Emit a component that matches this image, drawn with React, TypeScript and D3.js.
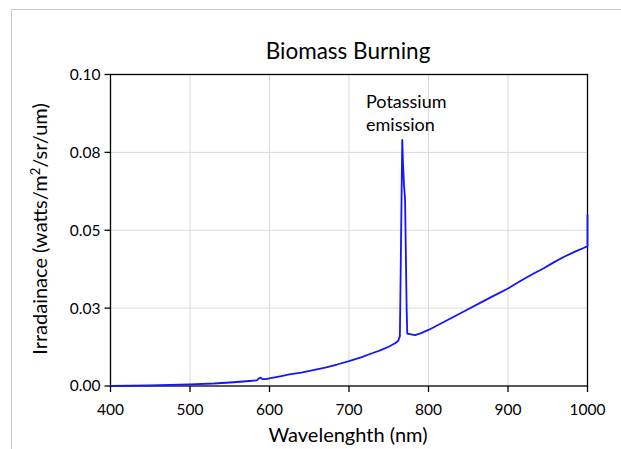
import React from "react";
import * as d3 from "d3";

// spectrum (nm, watts/m2/sr/um)
const wavelength = [
  400, 450, 500, 530, 555, 575, 584, 587, 589, 591, 595, 605, 615, 625, 640,
  655, 670, 685, 700, 715, 730, 740, 750, 758, 762, 764, 767, 768, 769.2,
  770.5, 772.5, 773.3, 778, 783, 790, 800, 815, 830, 848, 865, 880, 900, 915,
  930, 945, 957, 970, 985, 995, 1000, 1000,
];
const irradiance = [
  0, 0.0002, 0.0005, 0.0008, 0.0012, 0.0016, 0.0018, 0.0025, 0.0027, 0.0022,
  0.0022, 0.0027, 0.0032, 0.0037, 0.0043, 0.0051, 0.0059, 0.0069, 0.008,
  0.0092, 0.0106, 0.0115, 0.0126, 0.0137, 0.0145, 0.016, 0.079, 0.071, 0.0644,
  0.06, 0.025, 0.0168, 0.0166, 0.0163, 0.0169, 0.018, 0.02, 0.022, 0.0244,
  0.0267, 0.0287, 0.0313, 0.0336, 0.0358, 0.0378, 0.0396, 0.0414, 0.0432,
  0.0443, 0.0449, 0.055,
];

const xTicks = [400, 500, 600, 700, 800, 900, 1000];
const yTicks = [0, 0.025, 0.05, 0.075, 0.1];
const yTickLabels = ["0.00", "0.03", "0.05", "0.08", "0.10"];

const W = 621;
const H = 449;
const left = 110.5;
const right = 587.5;
const top = 74.5;
const bottom = 386;
const font = "Lato, 'Open Sans', sans-serif";

export default function App() {
  const x = d3.scaleLinear().domain([400, 1000]).range([left, right]);
  const y = d3.scaleLinear().domain([0, 0.1]).range([bottom, top]);

  const pts: [number, number][] = wavelength.map((w, i) => [w, irradiance[i]]);
  const line = d3
    .line<[number, number]>()
    .x((d) => x(d[0]))
    .y((d) => y(d[1]));

  return (
    <svg
      width={W}
      height={H}
      style={{ position: "absolute", left: 0, top: 0, background: "#fff" }}
    >
      {/* outer frame of the picture */}
      <line x1={11.5} y1={9.5} x2={W} y2={9.5} stroke="#c8c8c8" />
      <line x1={11.5} y1={9.5} x2={11.5} y2={H} stroke="#c8c8c8" />

      <text
        x={348}
        y={59}
        textAnchor="middle"
        fontFamily={font}
        fontSize={22.5}
        fill="#000"
      >
        Biomass Burning
      </text>

      {/* grid */}
      {xTicks.slice(1, -1).map((t) => (
        <line key={"gx" + t} x1={x(t)} x2={x(t)} y1={top} y2={bottom} stroke="#d9d9d9" />
      ))}
      {yTicks.slice(1, -1).map((t) => (
        <line key={"gy" + t} x1={left} x2={right} y1={y(t)} y2={y(t)} stroke="#d9d9d9" />
      ))}

      {/* frame */}
      <rect
        x={left}
        y={top}
        width={right - left}
        height={bottom - top}
        fill="none"
        stroke="#000"
        strokeWidth={1.3}
      />

      {/* ticks */}
      {yTicks.map((t, i) => (
        <g key={"ty" + t}>
          <line x1={left - 6} x2={left} y1={y(t)} y2={y(t)} stroke="#000" strokeWidth={1.3} />
          <text
            x={left - 10}
            y={y(t)}
            dy="0.35em"
            textAnchor="end"
            fontFamily={font}
            fontSize={15.5}
          >
            {yTickLabels[i]}
          </text>
        </g>
      ))}
      {xTicks.map((t) => (
        <g key={"tx" + t}>
          <line x1={x(t)} x2={x(t)} y1={bottom} y2={bottom + 6} stroke="#000" strokeWidth={1.3} />
          <text
            x={x(t)}
            y={415}
            textAnchor="middle"
            fontFamily={font}
            fontSize={15.5}
          >
            {t}
          </text>
        </g>
      ))}

      <path d={line(pts) ?? ""} fill="none" stroke="#1414ff" strokeWidth={1.8} strokeLinejoin="round" />

      <text x={366} y={108} fontFamily={font} fontSize={18}>
        Potassium
      </text>
      <text x={366} y={131} fontFamily={font} fontSize={18}>
        emission
      </text>

      <text
        x={348}
        y={442}
        textAnchor="middle"
        fontFamily={font}
        fontSize={20}
      >
        Wavelenghth (nm)
      </text>
      <text
        transform={`translate(47,229) rotate(-90)`}
        textAnchor="middle"
        fontFamily={font}
        fontSize={20}
      >
        Irradainace (watts/m<tspan dy={-7} fontSize={13}>2</tspan>
        <tspan dy={7}>/sr/um)</tspan>
      </text>
    </svg>
  );
}
